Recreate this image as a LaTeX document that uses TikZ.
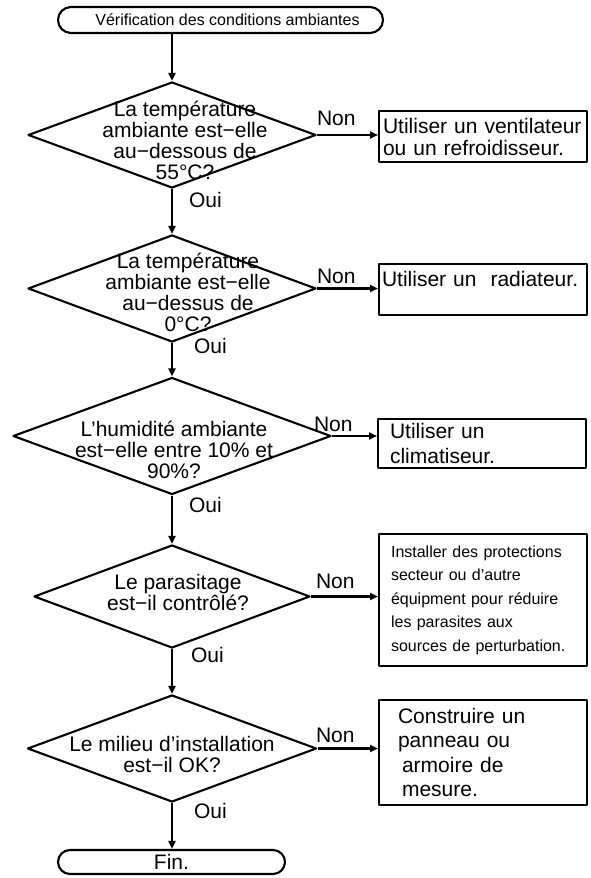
\documentclass[tikz,border=0pt]{standalone}
\usepackage{fontspec}
\setmainfont{Liberation Sans}
\usetikzlibrary{shapes.geometric,shapes.misc,arrows.meta}

\begin{document}
\begin{tikzpicture}[x=1pt, y=-1pt, line width=2.1pt, line join=round,
    font=\fontsize{21}{21}\selectfont,
    terminal/.style={rounded rectangle, draw, inner sep=0pt, minimum height=26pt},
    decision/.style={diamond, draw, inner sep=0pt},
    qtext/.style={align=center, inner sep=0pt},
    action/.style={rectangle, draw, anchor=north west, minimum width=208pt,
        align=left, inner xsep=0pt, font=\fontsize{21}{22}\selectfont},
    lbl/.style={anchor=base west, inner sep=0pt},
    flow/.style={-{Triangle[length=8pt,width=7pt]}}]

    % cadre de la figure
    \useasboundingbox (0,0) rectangle (590,878);

    % debut et fin
    \node[terminal, minimum width=325pt, font=\fontsize{16}{16}\selectfont]
        (start) at (220.5,20) {\hspace*{14pt}Vérification des conditions ambiantes};
    \node[terminal, minimum width=227pt, minimum height=24pt] (fin) at (171.5,862) {Fin.};

    % losanges
    \node[decision, minimum width=288pt, minimum height=106pt] (q1) at (172,135) {};
    \node[decision, minimum width=288pt, minimum height=107pt] (q2) at (172,288.5) {};
    \node[decision, minimum width=318pt, minimum height=117pt] (q3) at (172,436) {};
    \node[decision, minimum width=276pt, minimum height=103pt] (q4) at (172,596.5) {};
    \node[decision, minimum width=289pt, minimum height=107pt] (q5) at (172,748.5) {};

    % questions
    \node[qtext] (t1) at (185,140) {La température\\ambiante est−elle\\au−dessous de\\55°C?};
    \node[qtext] (t2) at (188,292) {La température\\ambiante est−elle\\au−dessus de\\0°C?};
    \node[qtext] (t3) at (174,450) {L’humidité ambiante\\est−elle entre 10\% et\\90\%?};
    \node[qtext] (t4) at (178,592) {Le parasitage\\est−il contrôlé?};
    \node[qtext] (t5) at (172,754) {Le milieu d’installation\\est−il OK?};

    % actions
    \node[action, text width=200pt, minimum height=51pt] (a1) at (378,110)
        {Utiliser un ventilateur\\ou un refroidisseur.};
    \node[action, text width=202pt, minimum height=51pt] (a2) at (378,263)
        {Utiliser un\ \ radiateur.\\\mbox{}};
    \node[action, text width=184pt, minimum height=49pt,
        font=\fontsize{21}{25}\selectfont] (a3) at (377,418)
        {Utiliser un\\climatiseur.};
    \node[action, text width=184pt, minimum height=132pt,
        font=\fontsize{16}{23.5}\selectfont] (a4) at (378,533)
        {Installer des protections\\secteur ou d’autre\\équipment pour réduire\\les parasites aux\\sources de perturbation.};
    \node[action, text width=170pt, minimum height=105pt,
        font=\fontsize{21}{24.5}\selectfont] (a5) at (378,699)
        {Construire un\\panneau ou\\\hspace*{4pt}armoire de\\\hspace*{4pt}mesure.};

    % fleches (Oui)
    \draw[flow] (start.south -| q1.north) -- (q1.north);
    \draw[flow] (q1.south) -- (q2.north);
    \draw[flow] (q2.south) -- (q3.north);
    \draw[flow] (q3.south) -- (q4.north);
    \draw[flow] (q4.south) -- (q5.north);
    \draw[flow] (q5.south) -- (q5.south |- fin.north);

    % fleches (Non)
    \foreach \i in {1,...,5}
        \draw[flow] (q\i.east) -- (q\i.east -| a\i.west);

    % etiquettes
    \node[lbl] (n1) at (316,125) {Non};
    \node[lbl] (n2) at (316,283) {Non};
    \node[lbl] (n3) at (313,431) {Non};
    \node[lbl] (n4) at (315,588) {Non};
    \node[lbl] (n5) at (315,742) {Non};
    \node[lbl] (o1) at (188,207) {Oui};
    \node[lbl] (o2) at (193,353) {Oui};
    \node[lbl] (o3) at (188,512) {Oui};
    \node[lbl] (o4) at (190,662) {Oui};
    \node[lbl] (o5) at (193,818) {Oui};

\end{tikzpicture}
\end{document}
